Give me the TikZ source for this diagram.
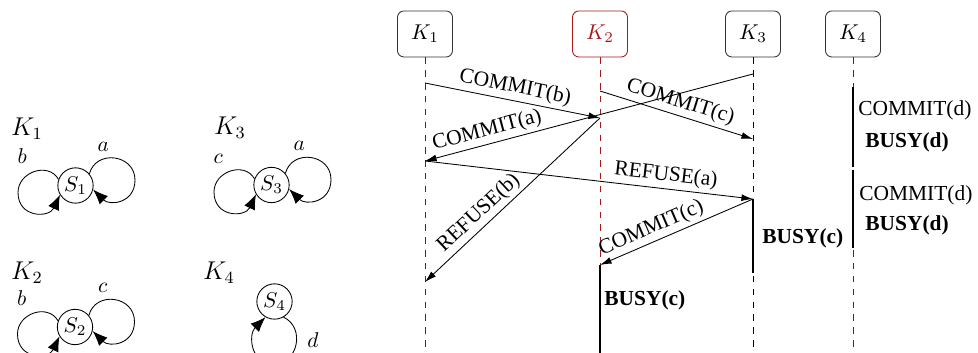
\documentclass[tikz,border=0pt]{standalone}
\usepackage[no-math]{fontspec}
\setmainfont{Liberation Serif}
\usetikzlibrary{arrows.meta}
\definecolor{kred}{RGB}{165,25,25}

\begin{document}
\begin{tikzpicture}[x=0.467pt, y=0.467pt, >={Latex[length=5.4pt,width=3.2pt]}]
	\tikzset{
		head/.style={rectangle, rounded corners=3pt, minimum width=25.7pt, minimum height=21.5pt, draw=black!80},
		lifeline/.style={dashed, black!80},
		busyline/.style={line width=0.5pt},
		msg/.style={sloped, above, inner sep=1.5pt},
		busy/.style={anchor=west, inner sep=0pt, font=\bfseries},
		plain/.style={anchor=west, inner sep=0pt},
		statenode/.style={circle, draw, minimum size=16.5pt, inner sep=0pt},
		selfloop/.style={-{Latex[length=7pt,width=5.5pt]}},
		machine/.style={font=\large},
	}
	\path[use as bounding box, clip] (0,0) rectangle (978,-353);

	% lifeline heads and their dashed lines
	\node[head](K1) at (425,-34){$K_1$};
	\node[head, draw=kred, text=kred](K2) at (600,-34){$K_2$};
	\node[head](K3) at (753,-34){$K_3$};
	\node[head](K4) at (853,-34){$K_4$};
	\coordinate (K1end) at (K1 |- 0,-360);
	\coordinate (K2end) at (K2 |- 0,-360);
	\coordinate (K3end) at (K3 |- 0,-360);
	\coordinate (K4end) at (K4 |- 0,-360);
	\draw[lifeline] (K1) -- (K1end);
	\draw[lifeline, kred] (K2) -- (K2end);
	\draw[lifeline, black] (K3) -- (K3end);
	\draw[lifeline] (K4) -- (K4end);

	% send and receive points
	\coordinate (cbs) at (K1 |- 0,-83);
	\coordinate (cbr) at (K2 |- 0,-118);
	\coordinate (ccs) at (K2 |- 0,-91);
	\coordinate (ccr) at (K3 |- 0,-139);
	\coordinate (cas) at (K3 |- 0,-74);
	\coordinate (car) at (K1 |- 0,-161);
	\coordinate (rbr) at (K1 |- 0,-282);
	\coordinate (rar) at (K3 |- 0,-199);
	\coordinate (cctr) at (K2 |- 0,-265);
	\coordinate (busyend) at (K3 |- 0,-273);
	\coordinate (d1a) at (K4 |- 0,-87);
	\coordinate (d1b) at (K4 |- 0,-167);
	\coordinate (d2a) at (K4 |- 0,-170);
	\coordinate (d2b) at (K4 |- 0,-248);

	%Draw messages
	\draw[->] (cbs) -- node[msg]{COMMIT(b)} (cbr);
	\draw[->] (ccs) -- node[msg]{COMMIT(c)} (ccr);
	\draw[->] (cas) -- node[msg, pos=0.8]{COMMIT(a)} (car);
	\draw[->] (cbr) -- node[msg, pos=0.64]{REFUSE(b)} (rbr);
	\draw[->] (car) -- node[msg, pos=0.73]{REFUSE(a)} (rar);
	\draw[->] (rar) -- node[msg, pos=0.63]{COMMIT(c)} (cctr);

	%Busy periods
	\draw[busyline] (rar) -- (busyend);
	\draw[busyline] (cctr) -- (K2end);
	\draw[busyline] (d1a) -- (d1b);
	\draw[busyline] (d2a) -- (d2b);
	\node[busy](busyc3) at (762,-238){BUSY(c)};
	\node[busy](busyc2) at (604,-300){BUSY(c)};
	\node[plain](commitd1) at (858,-110){COMMIT(d)};
	\node[busy](busyd1) at (865,-142){BUSY(d)};
	\node[plain](commitd2) at (859,-195){COMMIT(d)};
	\node[busy](busyd2) at (865,-225){BUSY(d)};

	% one state machine per process
	\node[machine](M1) at (27,-129){$K_1$};
	\node[machine](M3) at (230,-128){$K_3$};
	\node[machine](M2) at (27,-273){$K_2$};
	\node[machine](M4) at (219,-273){$K_4$};
	\node[statenode](S1) at (75.5,-185.5){$S_1$};
	\node[statenode](S3) at (271.5,-185){$S_3$};
	\node[statenode](S2) at (75,-327){$S_2$};
	\node[statenode](S4) at (274.5,-301.5){$S_4$};

	% far side of every self loop
	\foreach \s in {S1,S2,S3}{
		\coordinate (\s w) at ([shift={(-57.5,-7)}]\s.center);
		\coordinate (\s e) at ([shift={(59.5,5.5)}]\s.center);
	}
	\coordinate (S4s) at ([shift={(-0.5,-62.5)}]S4.center);

	%Draw loops
	\draw[selfloop] (S1.160) to[out=120, in=90, distance=9.6pt] node[above left, pos=0.5]{$b$} (S1w) to[out=270, in=245, distance=12pt] (S1.211);
	\draw[selfloop] (S1.40) to[out=75, in=90, distance=12pt] node[above, pos=0.32]{$a$} (S1e) to[out=270, in=-45, distance=10.9pt] (S1.-13);
	\draw[selfloop] (S3.160) to[out=120, in=90, distance=9.6pt] node[above left, pos=0.5]{$c$} (S3w) to[out=270, in=245, distance=12pt] (S3.211);
	\draw[selfloop] (S3.40) to[out=75, in=90, distance=12pt] node[above, pos=0.32]{$a$} (S3e) to[out=270, in=-45, distance=10.9pt] (S3.-13);
	\draw[selfloop] (S2.160) to[out=120, in=90, distance=9.6pt] node[above left, pos=0.5]{$b$} (S2w) to[out=270, in=245, distance=12pt] (S2.211);
	\draw[selfloop] (S2.40) to[out=75, in=90, distance=12pt] node[above, pos=0.32]{$c$} (S2e) to[out=270, in=-45, distance=10.9pt] (S2.-13);
	\draw[selfloop] (S4.-60) to[out=-25, in=0, distance=11.3pt] node[right=1.5pt, pos=0.43]{$d$} (S4s) to[out=180, in=225, distance=11.3pt] (S4.240);
\end{tikzpicture}
\end{document}
